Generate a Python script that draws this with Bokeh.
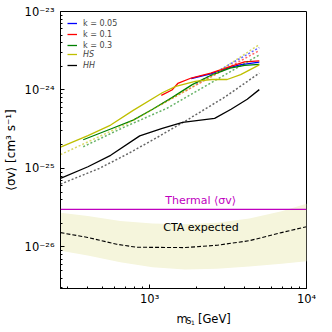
from bokeh.plotting import figure
from bokeh.layouts import column
from bokeh.models import (FixedTicker, CustomJSTickFormatter, Span, Label, Legend, LegendItem)
from bokeh.core.properties import value
from bokeh.embed import file_html
from bokeh.resources import INLINE

# ---------------- data ----------------
x_lo, x_hi = 270, 1e4
y_lo, y_hi = 2.95e-27, 1e-23

x_major = [1e3, 1e4]
y_major = [1e-26, 1e-25, 1e-24, 1e-23]

# k = 0.05 (blue)
b_m = [1842, 2449, 3118, 3753, 5000]
b_sv = [1.40e-24, 1.60e-24, 1.89e-24, 2.09e-24, 2.26e-24]
b_m_dot = [1977, 5000]
b_sv_dot = [1.21e-24, 3.47e-24]

# k = 0.1 (red)
r_m = [1186, 1387, 1511, 1842, 2449, 3252, 4027, 5000]
r_sv = [8.53e-25, 1.0e-24, 1.21e-24, 1.42e-24, 1.64e-24, 1.99e-24, 2.28e-24, 2.35e-24]
r_m_dot = [1186, 2449, 5000]
r_sv_dot = [6.58e-25, 1.46e-24, 3.18e-24]

# k = 0.3 (green)
g_m = [377, 564, 785, 1044, 1387, 1868, 2483, 3252, 4027, 5000]
g_sv = [2.32e-25, 3.18e-25, 4.13e-25, 5.68e-25, 7.98e-25, 1.17e-24, 1.55e-24, 1.90e-24, 2.06e-24, 2.12e-24]
g_m_dot = [377, 681, 1291, 5000]
g_sv_dot = [1.89e-25, 3.33e-25, 5.85e-25, 2.80e-24]

# HS (yellow)
hs_m = [270, 404, 564, 785, 1203, 1468, 1950, 2483, 3118, 3803, 5000]
hs_sv = [1.87e-25, 2.62e-25, 3.57e-25, 5.50e-25, 9.22e-25, 1.11e-24, 1.29e-24, 1.36e-24, 1.36e-24, 1.57e-24, 2.09e-24]
hs_m_dot = [270, 731, 2449, 5000]
hs_sv_dot = [1.50e-25, 3.79e-25, 1.48e-24, 3.79e-24]

# HH (black)
hh_m = [270, 404, 564, 864, 1203, 1621, 2596, 3304, 4188, 5000]
hh_sv = [7.48e-26, 1.05e-25, 1.47e-25, 2.60e-25, 3.23e-25, 3.86e-25, 4.34e-25, 5.68e-25, 7.60e-25, 1.01e-24]
hh_m_dot = [270, 477, 731, 1120, 1691, 3027, 5000]
hh_sv_dot = [6.30e-26, 1.0e-25, 1.55e-25, 2.49e-25, 4.02e-25, 8.16e-25, 1.64e-24]

# CTA expected sensitivity and band
cta_m = [270, 403, 617, 820, 1667, 2700, 4325, 6920, 10000]
cta_sv = [1.52e-26, 1.32e-26, 1.08e-26, 0.99e-26, 0.98e-26, 1.05e-26, 1.20e-26, 1.52e-26, 1.81e-26]
band_m = [270, 403, 650, 1043, 1676, 2690, 4320, 6940, 10000]
band_hi = [2.72e-26, 2.47e-26, 2.14e-26, 1.98e-26, 1.94e-26, 2.03e-26, 2.30e-26, 2.85e-26, 3.56e-26]
band_lo = [8.95e-27, 7.75e-27, 6.38e-27, 5.52e-27, 5.16e-27, 5.26e-27, 5.64e-27, 6.08e-27, 6.58e-27]

thermal_sv = 3.0e-26

# ---------------- figure ----------------
FONT = "DejaVu Sans"
p = figure(width=316, height=308, x_axis_type="log", y_axis_type="log",
           x_range=(x_lo, x_hi), y_range=(y_lo, y_hi),
           output_backend="svg", toolbar_location=None,
           min_border_left=52, min_border_right=10, min_border_top=11, min_border_bottom=16)
p.grid.visible = False
p.outline_line_color = "black"
p.outline_line_width = 1
p.background_fill_color = "white"
p.border_fill_color = "white"

x_minor = [k * 10 ** d for d in (2, 3) for k in range(2, 10)]
y_minor = [k * 10.0 ** d for d in (-27, -26, -25, -24) for k in range(2, 10)]
p.xaxis.ticker = FixedTicker(ticks=x_major, minor_ticks=x_minor)
p.yaxis.ticker = FixedTicker(ticks=y_major, minor_ticks=y_minor)

fmt_code = """
const sup = {"-": "\u207b", "0": "\u2070", "1": "\u00b9", "2": "\u00b2", "3": "\u00b3",
             "4": "\u2074", "5": "\u2075", "6": "\u2076", "7": "\u2077", "8": "\u2078", "9": "\u2079"};
const e = Math.round(Math.log10(tick));
return "10" + String(e).split("").map(c => sup[c]).join("");
"""
for ax in (p.xaxis, p.yaxis):
    ax.formatter = CustomJSTickFormatter(code=fmt_code)
    ax.major_tick_in = 4
    ax.major_tick_out = 0
    ax.minor_tick_in = 2
    ax.minor_tick_out = 0
    ax.axis_line_color = "black"
    ax.major_tick_line_color = "black"
    ax.minor_tick_line_color = "black"
    ax.major_label_text_font = FONT
    ax.major_label_text_font_size = "11.5px"
    ax.major_label_text_color = "black"
    ax.axis_label_text_font = FONT
    ax.axis_label_text_font_style = "normal"
    ax.axis_label_text_color = "black"

p.xaxis.major_label_standoff = 3
p.yaxis.major_label_standoff = 6
p.yaxis.axis_label = "⟨σv⟩ [cm³ s⁻¹]"
p.yaxis.axis_label_text_font_size = "12px"
p.yaxis.axis_label_standoff = 4

# CTA band & line
p.varea(x=band_m, y1=band_lo, y2=band_hi, fill_color="#f5f5dc", fill_alpha=1.0)
p.line(cta_m, cta_sv, line_color="black", line_width=1.1, line_dash="4 2")

# thermal line
p.add_layout(Span(location=thermal_sv, dimension="width", line_color="#bf00bf", line_width=1.3))

LW = 1.3
DOT = dict(line_dash="2 2", line_width=1.5, line_alpha=0.6)
rb = p.line(b_m, b_sv, line_color="#0000ff", line_width=LW)
p.line(b_m_dot, b_sv_dot, line_color="#0000ff", **DOT)
rr = p.line(r_m, r_sv, line_color="#ff0000", line_width=LW)
p.line(r_m_dot, r_sv_dot, line_color="#ff0000", **DOT)
rg = p.line(g_m, g_sv, line_color="#008000", line_width=LW)
p.line(g_m_dot, g_sv_dot, line_color="#008000", **DOT)
rhs = p.line(hs_m, hs_sv, line_color="#bfbf00", line_width=LW)
p.line(hs_m_dot, hs_sv_dot, line_color="#bfbf00", **DOT)
rhh = p.line(hh_m, hh_sv, line_color="black", line_width=LW)
p.line(hh_m_dot, hh_sv_dot, line_color="black", **DOT)

# texts
p.add_layout(Label(x=1256, y=3.85e-26, text="Thermal ⟨σv⟩", text_color="#bf00bf",
                   text_font=FONT, text_font_size="11px", text_baseline="middle", text_align="left"))
p.add_layout(Label(x=1220, y=1.76e-26, text="CTA expected", text_color="black",
                   text_font=FONT, text_font_size="11px", text_baseline="middle", text_align="left"))

# legends
common = dict(label_text_font=FONT, label_text_font_size="8px", glyph_width=10, glyph_height=10,
              label_height=10, label_standoff=6, spacing=1, padding=3, margin=0,
              background_fill_alpha=0, border_line_alpha=0)
leg1 = Legend(items=[LegendItem(label="k = 0.05", renderers=[rb]),
                     LegendItem(label="k = 0.1", renderers=[rr]),
                     LegendItem(label="k = 0.3", renderers=[rg])],
              location=(4, 235), **common)
leg2 = Legend(items=[LegendItem(label="HS", renderers=[rhs]),
                     LegendItem(label="HH", renderers=[rhh])],
              location=(4, 215), label_text_font_style="italic", **common)
p.add_layout(leg1)
p.add_layout(leg2)

# x-axis label strip (m with subscript S_1), drawn as text in a small figure below
q = figure(width=316, height=22, x_range=(0, 316), y_range=(0, 22),
           output_backend="svg", toolbar_location=None, min_border=0)
q.axis.visible = False
q.grid.visible = False
q.outline_line_color = None
q.background_fill_color = "white"
q.border_fill_color = "white"
for txt, xs, ys, fs in [("m", 149, 11.5, "11.5px"), ("S", 161.5, 9.5, "8px"),
                        ("1", 167.5, 8, "6px"), ("[GeV]", 176.5, 11.5, "11.5px")]:
    q.text(x=[xs], y=[ys], text=[txt], text_font=value(FONT), text_font_size=fs,
           text_baseline="alphabetic", text_align="left", text_color="black")

layout = column(p, q, spacing=0)
open("out.html", "w").write(file_html(layout, INLINE))
